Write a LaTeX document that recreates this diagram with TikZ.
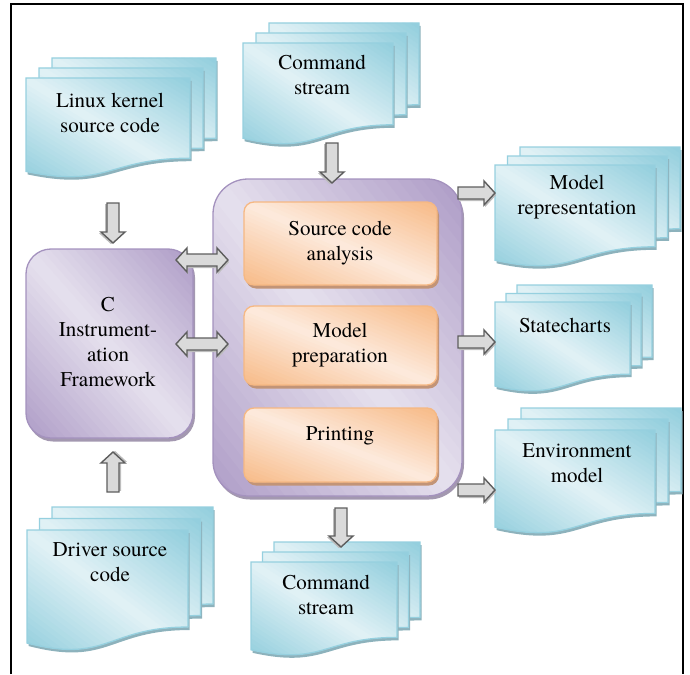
\documentclass[tikz,border=0pt]{standalone}
\usepackage{fontspec}
\setmainfont{TeX Gyre Termes}
\definecolor{docD}{HTML}{92CEDD}
\definecolor{docL}{HTML}{E2F2F6}
\definecolor{docLine}{HTML}{96D0DF}
\definecolor{docShadow}{HTML}{8DB2BC}
\definecolor{purD}{HTML}{AD9BC6}
\definecolor{purL}{HTML}{E6E1EE}
\definecolor{purLine}{HTML}{A492BE}
\definecolor{purShadow}{HTML}{A398B0}
\definecolor{orD}{HTML}{F7BA86}
\definecolor{orL}{HTML}{FDEADD}
\definecolor{orLine}{HTML}{F6B883}
\definecolor{orShadow}{HTML}{C29477}
\definecolor{arLine}{HTML}{5E5E5E}
\definecolor{arFill}{HTML}{DADADA}
\definecolor{arShadow}{HTML}{BDBDBD}

\newcommand\gradbands[6]{%
  \begin{scope}[shift={(#1,#2)}, x=#3pt, y=-#4pt]
    \foreach \k in {0,...,39}{%
      \pgfmathsetmacro\gsa{\k/20-0.01+1}%
      \pgfmathsetmacro\gsb{(\k+1)/20+0.01+1}%
      \pgfmathsetmacro\gna{-(\k/20-0.01)}%
      \pgfmathsetmacro\gnb{-((\k+1)/20+0.01)}%
      \pgfmathsetmacro\gq{1-(\k+0.5)/20}%
      \pgfmathsetmacro\gmix{100*(1-abs(\gq))}%
      \fill[#6!\gmix!#5] (\gsa,2) -- (\gsb,2) -- (-1,\gnb) -- (-1,\gna) -- cycle;
    }
  \end{scope}}
\newcommand\docshape[4]{(#1,#2) -- ({#1+#3},#2) -- ({#1+#3},{#2+0.802*#4}) .. controls ({#1+0.5*#3},{#2+0.802*#4}) and ({#1+0.5*#3},{#2+1.107*#4}) .. (#1,{#2+0.934*#4}) -- cycle}
\newcommand\gradsheet[4]{%
  \fill[docShadow, xshift=1.5pt, yshift=-3pt] \docshape{#1}{#2}{#3}{#4};
  \begin{scope}
    \clip \docshape{#1}{#2}{#3}{#4};
    \gradbands{#1}{#2}{#3}{#4}{docD}{docL}
  \end{scope}
  \draw[docLine, line width=1.3pt] \docshape{#1}{#2}{#3}{#4};
}
\newcommand\mdoc[6]{% x y w h dx dy
  \foreach \i in {2,1,0}{%
    \pgfmathsetmacro\ox{#1+\i*#5}%
    \pgfmathsetmacro\oy{#2-\i*#6}%
    \gradsheet{\ox}{\oy}{#3}{#4}
  }}
\newcommand\gbox[9]{% x0 y0 w h r dark light line shadow
  \fill[#9, xshift=2pt, yshift=-3.5pt, rounded corners=#5pt] (#1,#2) rectangle ++(#3,#4);
  \begin{scope}
    \clip[rounded corners=#5pt] (#1,#2) rectangle ++(#3,#4);
    \gradbands{#1}{#2}{#3}{#4}{#6}{#7}
  \end{scope}
  \draw[#8, line width=1.3pt, rounded corners=#5pt] (#1,#2) rectangle ++(#3,#4);
}
\tikzset{
  txt/.style={font=\fontsize{21}{25}\selectfont, align=center, inner sep=0pt},
  anchorbox/.style={inner sep=0pt},
  arrowbody/.style={draw=arLine, line width=1.4pt, fill=arFill, line join=miter},
  pics/barr/.style={code={
    \fill[arShadow, xshift=1.2pt, yshift=-2pt] (0,-6) -- ({#1-11},-6) -- ({#1-11},-12) -- (#1,0) -- ({#1-11},12) -- ({#1-11},6) -- (0,6) -- cycle;
    \path[arrowbody] (0,-6) -- ({#1-11},-6) -- ({#1-11},-12) -- (#1,0) -- ({#1-11},12) -- ({#1-11},6) -- (0,6) -- cycle;
  }},
  pics/dbarr/.style={code={
    \fill[arShadow, xshift=1.2pt, yshift=-2pt] (0,0) -- (11,-12) -- (11,-6) -- ({#1-11},-6) -- ({#1-11},-12) -- (#1,0) -- ({#1-11},12) -- ({#1-11},6) -- (11,6) -- (11,12) -- cycle;
    \path[arrowbody] (0,0) -- (11,-12) -- (11,-6) -- ({#1-11},-6) -- ({#1-11},-12) -- (#1,0) -- ({#1-11},12) -- ({#1-11},6) -- (11,6) -- (11,12) -- cycle;
  }}
}
\begin{document}
\begin{tikzpicture}[x=1pt,y=-1pt]
\useasboundingbox (0,0) rectangle (690,674);
\draw[line width=1.8pt] (11,674) -- (11,4) -- (683,4) -- (683,674);

% documents
\mdoc{26}{78}{164}{100}{13}{10}
\mdoc{243}{43}{150}{102}{13}{10}
\mdoc{495}{165}{160}{102}{12.5}{9}
\mdoc{495}{302}{135}{90}{11}{8.5}
\mdoc{495}{430}{160}{104}{13}{11}
\mdoc{27}{530}{161}{121}{12.5}{11.5}
\mdoc{251}{562}{146}{94}{11.5}{10}

\node[txt] (linux) at (110,112.5) {Linux kernel\\source code};
\node[txt] (cmdin) at (322,75) {Command\\stream};
\node[txt] (modrep) at (577,197) {Model\\representation};
\node[txt] (statech) at (565,325) {Statecharts};
\node[txt] (envmod) at (577,463) {Environment\\model};
\node[txt] (driver) at (110,562.5) {Driver source\\code};
\node[txt] (cmdout) at (326,594.5) {Command\\stream};

% purple boxes
\gbox{26}{249}{167}{189}{25}{purD}{purL}{purLine}{purShadow}
\node[txt] (cif) at (108,342) {C\\Instrument-\\ation\\Framework};
\gbox{213}{179}{249}{317}{35}{purD}{purL}{purLine}{purShadow}
\node[anchorbox, minimum width=249pt, minimum height=317pt] (core) at (337.5,337.5) {};

% orange boxes
\gbox{244}{202}{193}{83}{10}{orD}{orL}{orLine}{orShadow}
\gbox{244}{306}{193}{79}{10}{orD}{orL}{orLine}{orShadow}
\gbox{244}{408}{193}{74}{10}{orD}{orL}{orLine}{orShadow}
\node[txt] (sca) at (340,243.5) {Source code\\analysis};
\node[txt] (mprep) at (340,345.5) {Model\\preparation};
\node[txt] (prn) at (340,436) {Printing};

% block arrows
\pic[rotate=-90] at (113,203) {barr=40};
\pic[rotate=90] at (113,492) {barr=40};
\pic[rotate=-90] at (332,143) {barr=40};
\pic[rotate=-90] at (341,508) {barr=39};
\pic at (458,193) {barr=37};
\pic at (458,342) {barr=37};
\pic at (458,490) {barr=37};
\pic at (176,260) {dbarr=52};
\pic at (176,344) {dbarr=52};
\end{tikzpicture}
\end{document}
